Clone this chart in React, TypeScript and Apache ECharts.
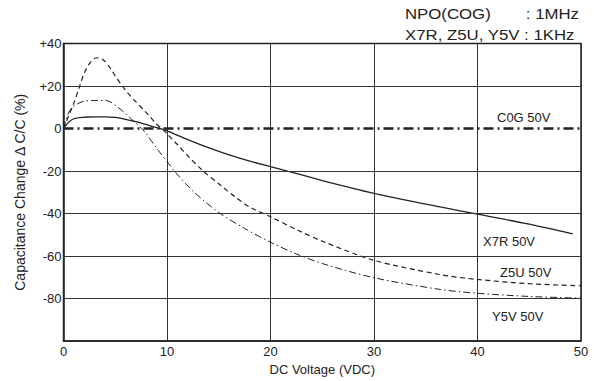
import React, { useEffect, useRef } from "react";
import * as echarts from "echarts";

const FONT = '"Liberation Sans", Arial, Helvetica, sans-serif';

const xTicks = [0, 10, 20, 30, 40, 50];
const yTicks = [40, 20, 0, -20, -40, -60, -80, -100];
const hGridLines = [20, -20, -40, -60, -80];

const c0gX = [0, 50];
const c0gY = [0, 0];

const x7rX = [0, 0.5, 1, 2, 3, 4, 5, 6, 7, 8, 9.3, 10, 12, 14, 16, 18, 20, 22, 25, 30, 36.4, 40, 45, 49.2];
const x7rY = [0, 3, 4.6, 5.3, 5.5, 5.5, 5.2, 4.3, 3.2, 1.8, 0, -1.1, -5.2, -9, -12.4, -15.3, -17.9, -20.5, -24.5, -30.5, -36.9, -40.3, -45, -49.6];

const z5uX = [0, 0.5, 1, 1.5, 2, 2.5, 3, 3.3, 3.8, 4.5, 5.1, 6, 7, 8, 9, 9.5, 10, 11, 12, 13.5, 15, 16.7, 18, 20, 22.7, 25, 30, 36.4, 40, 45, 50];
const z5uY = [0, 6, 12, 19, 26, 30.5, 33, 33.3, 32.5, 28.5, 24, 18, 12.5, 7.5, 2, 0, -2.5, -7.5, -12.8, -20, -26, -32.6, -37, -41.5, -48, -53, -62, -68.7, -71, -73, -74];

const y5vX = [0, 0.3, 0.6, 1, 1.5, 2, 3, 4, 4.5, 5, 6, 7, 7.4, 8, 9, 10, 10.8, 12.5, 15, 17.5, 20, 22.5, 25, 30, 36.4, 40, 45, 50];
const y5vY = [0, 5, 8.5, 10.5, 12, 12.8, 13.2, 13.2, 12.6, 11, 7, 2.5, 0.8, -2.5, -9.3, -15.5, -20.5, -29.4, -39.5, -47, -53.5, -59, -63.5, -70.2, -75.7, -77.5, -79, -79.8];

const seriesNames = ["C0G 50V", "X7R 50V", "Z5U 50V", "Y5V 50V"];
const headerLines = ["NPO(COG)", ": 1MHz", "X7R, Z5U, Y5V : 1KHz"];

const zip = (xs: number[], ys: number[]) => xs.map((x, i) => [x, ys[i]]);

export default function App() {
  const ref = useRef<HTMLDivElement>(null);
  useEffect(() => {
    if (!ref.current) return;
    const chart = echarts.init(ref.current, undefined, { renderer: "svg" });
    const ink = "#222";
    const lbl = (text: string, left: number, top: number) => ({
      type: "text",
      left,
      top,
      style: { text, fill: ink, font: `13px ${FONT}` },
    });
    const head = (text: string, x: number, y: number, align: string) => ({
      type: "text",
      x,
      y,
      scaleX: 1.12,
      style: {
        text,
        x: 0,
        y: 0,
        fill: ink,
        font: `15px ${FONT}`,
        align,
        verticalAlign: "middle",
      },
    });
    chart.setOption({
      animation: false,
      backgroundColor: "#fff",
      textStyle: { fontFamily: FONT },
      grid: {
        left: 63.5,
        right: 13,
        top: 43.5,
        bottom: 37.5,
        show: true,
        borderColor: ink,
        borderWidth: 1.5,
        backgroundColor: "transparent",
      },
      xAxis: {
        type: "value",
        min: xTicks[0],
        max: xTicks[xTicks.length - 1],
        interval: 10,
        name: "DC Voltage (VDC)",
        nameLocation: "middle",
        nameGap: 15,
        nameTextStyle: { color: ink, fontSize: 13, fontFamily: FONT },
        axisLine: { show: true, onZero: false, lineStyle: { color: ink, width: 1.5 } },
        axisTick: { show: false },
        axisLabel: { color: ink, fontSize: 13, margin: 4, fontFamily: FONT },
        splitLine: { show: true, lineStyle: { color: "#333", width: 1 } },
      },
      yAxis: {
        type: "value",
        min: yTicks[yTicks.length - 1],
        max: yTicks[0],
        interval: 20,
        name: "Capacitance Change Δ C/C (%)",
        nameLocation: "middle",
        nameGap: 37,
        nameRotate: 90,
        nameTextStyle: { color: ink, fontSize: 14, fontFamily: FONT },
        axisLine: { show: true, onZero: false, lineStyle: { color: ink, width: 1.5 } },
        axisTick: { show: false },
        axisLabel: {
          color: ink,
          fontSize: 13,
          margin: 2,
          fontFamily: FONT,
          formatter: (v: number) => (v === -100 ? "" : v > 0 ? "+" + v : String(v)),
        },
        splitLine: { show: false },
      },
      series: [
        {
          name: seriesNames[0],
          type: "line",
          data: zip(c0gX, c0gY),
          symbol: "none",
          lineStyle: { color: ink, width: 2.5, type: [10, 4, 2, 4] },
          z: 5,
          markLine: {
            silent: true,
            symbol: "none",
            label: { show: false },
            lineStyle: { color: "#333", width: 1, type: "solid" },
            data: hGridLines.map((v) => ({ yAxis: v })),
          },
        },
        {
          name: seriesNames[1],
          type: "line",
          data: zip(x7rX, x7rY),
          symbol: "none",
          smooth: 0.3,
          lineStyle: { color: ink, width: 1.3, type: "solid" },
        },
        {
          name: seriesNames[2],
          type: "line",
          data: zip(z5uX, z5uY),
          symbol: "none",
          smooth: 0.3,
          lineStyle: { color: ink, width: 1.2, type: [5, 3.5] },
        },
        {
          name: seriesNames[3],
          type: "line",
          data: zip(y5vX, y5vY),
          symbol: "none",
          smooth: 0.3,
          lineStyle: { color: ink, width: 1, type: [7, 3, 1.5, 3] },
        },
      ],
      graphic: [
        lbl(seriesNames[0], 497, 111),
        lbl(seriesNames[1], 483, 235),
        lbl(seriesNames[2], 500, 266),
        lbl(seriesNames[3], 492, 310),
        head(headerLines[0], 405, 14, "left"),
        head(headerLines[1], 579, 14, "right"),
        head(headerLines[2], 405, 35, "left"),
      ],
    });
    return () => chart.dispose();
  }, []);
  return (
    <div
      ref={ref}
      style={{ position: "absolute", left: 0, top: 0, width: 594, height: 381 }}
    />
  );
}
